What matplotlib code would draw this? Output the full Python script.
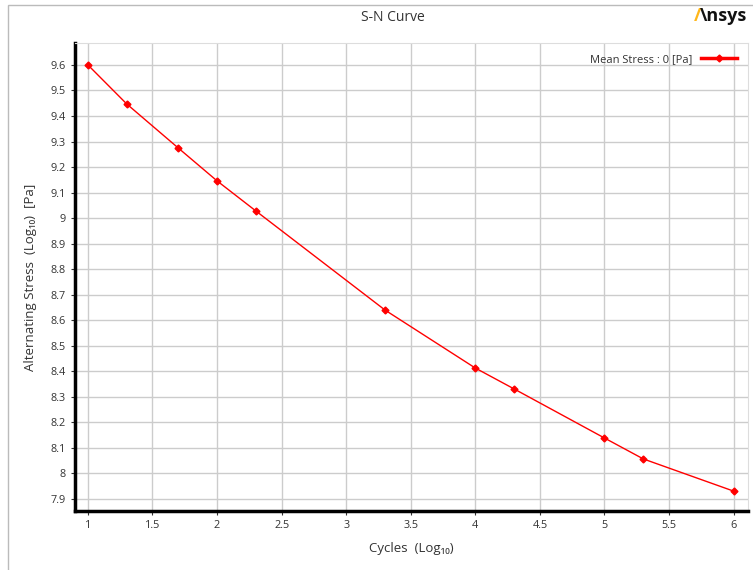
import matplotlib
matplotlib.use('Agg')
import matplotlib.pyplot as plt
from matplotlib.patches import Rectangle

# Datos de la curva S-N (log10)
cycles_log = [1, 1.301, 1.699, 2, 2.301, 3.301, 4, 4.301, 5, 5.301, 6]
stress_log = [9.6, 9.447, 9.275, 9.146, 9.028, 8.64, 8.413, 8.331, 8.139, 8.057, 7.931]
x_ticks = [1, 1.5, 2, 2.5, 3, 3.5, 4, 4.5, 5, 5.5, 6]
y_ticks = [7.9, 8, 8.1, 8.2, 8.3, 8.4, 8.5, 8.6, 8.7, 8.8, 8.9, 9, 9.1, 9.2, 9.3, 9.4, 9.5, 9.6]

plt.rcParams['font.family'] = ['Open Sans', 'DejaVu Sans']

fig = plt.figure(figsize=(7.53, 5.7), dpi=100)
ax = fig.add_axes([0.0996, 0.1035, 0.8934, 0.8211])

ax.plot(cycles_log, stress_log, color='#FF0000', linewidth=1, marker='D',
        markersize=3.5, label='Mean Stress : 0 [Pa]')

ax.set_xlim(0.9, 6.11)
ax.set_ylim(7.853, 9.686)
ax.set_xticks(x_ticks)
ax.set_xticklabels([f'{t:g}' for t in x_ticks])
ax.set_yticks(y_ticks)
ax.set_yticklabels([f'{t:g}' for t in y_ticks])
ax.tick_params(labelsize=7.8, colors='#333333', length=3, width=0.8)
ax.grid(True, color='#CCCCCC', linewidth=1)
ax.set_axisbelow(True)

for s in ['top', 'right']:
    ax.spines[s].set_color('#DDDDDD')
    ax.spines[s].set_linewidth(0.8)
for s in ['left', 'bottom']:
    ax.spines[s].set_color('black')
    ax.spines[s].set_linewidth(2.5)

ax.set_xlabel('Cycles  (Log₁₀)', fontsize=9.5, color='#333333', labelpad=8)
ax.set_ylabel('Alternating Stress  (Log₁₀)  [Pa]', fontsize=9.5, color='#333333', labelpad=10)

leg = ax.legend(loc='upper right', frameon=False, markerfirst=False, fontsize=8,
                handlelength=3.2, borderaxespad=0.6)
for t in leg.get_texts():
    t.set_color('#333333')
for h in leg.get_lines():
    h.set_linewidth(2.5)

fig.text(0.522, 0.97, 'S-N Curve', ha='center', va='center', fontsize=10, color='#333333')
fig.text(0.921, 0.972, '/', ha='left', va='center', fontsize=13, fontweight='bold', color='#FFB71B')
fig.text(0.929, 0.972, '\\nsys', ha='left', va='center', fontsize=13, fontweight='bold', color='#111111')

# Borde gris de la ventana
fig.patches.append(Rectangle((0.011, -0.1), 1.1, 1.091, transform=fig.transFigure,
                             fill=False, edgecolor='#BBBBBB', linewidth=1))

plt.savefig('out.png', dpi=100)
